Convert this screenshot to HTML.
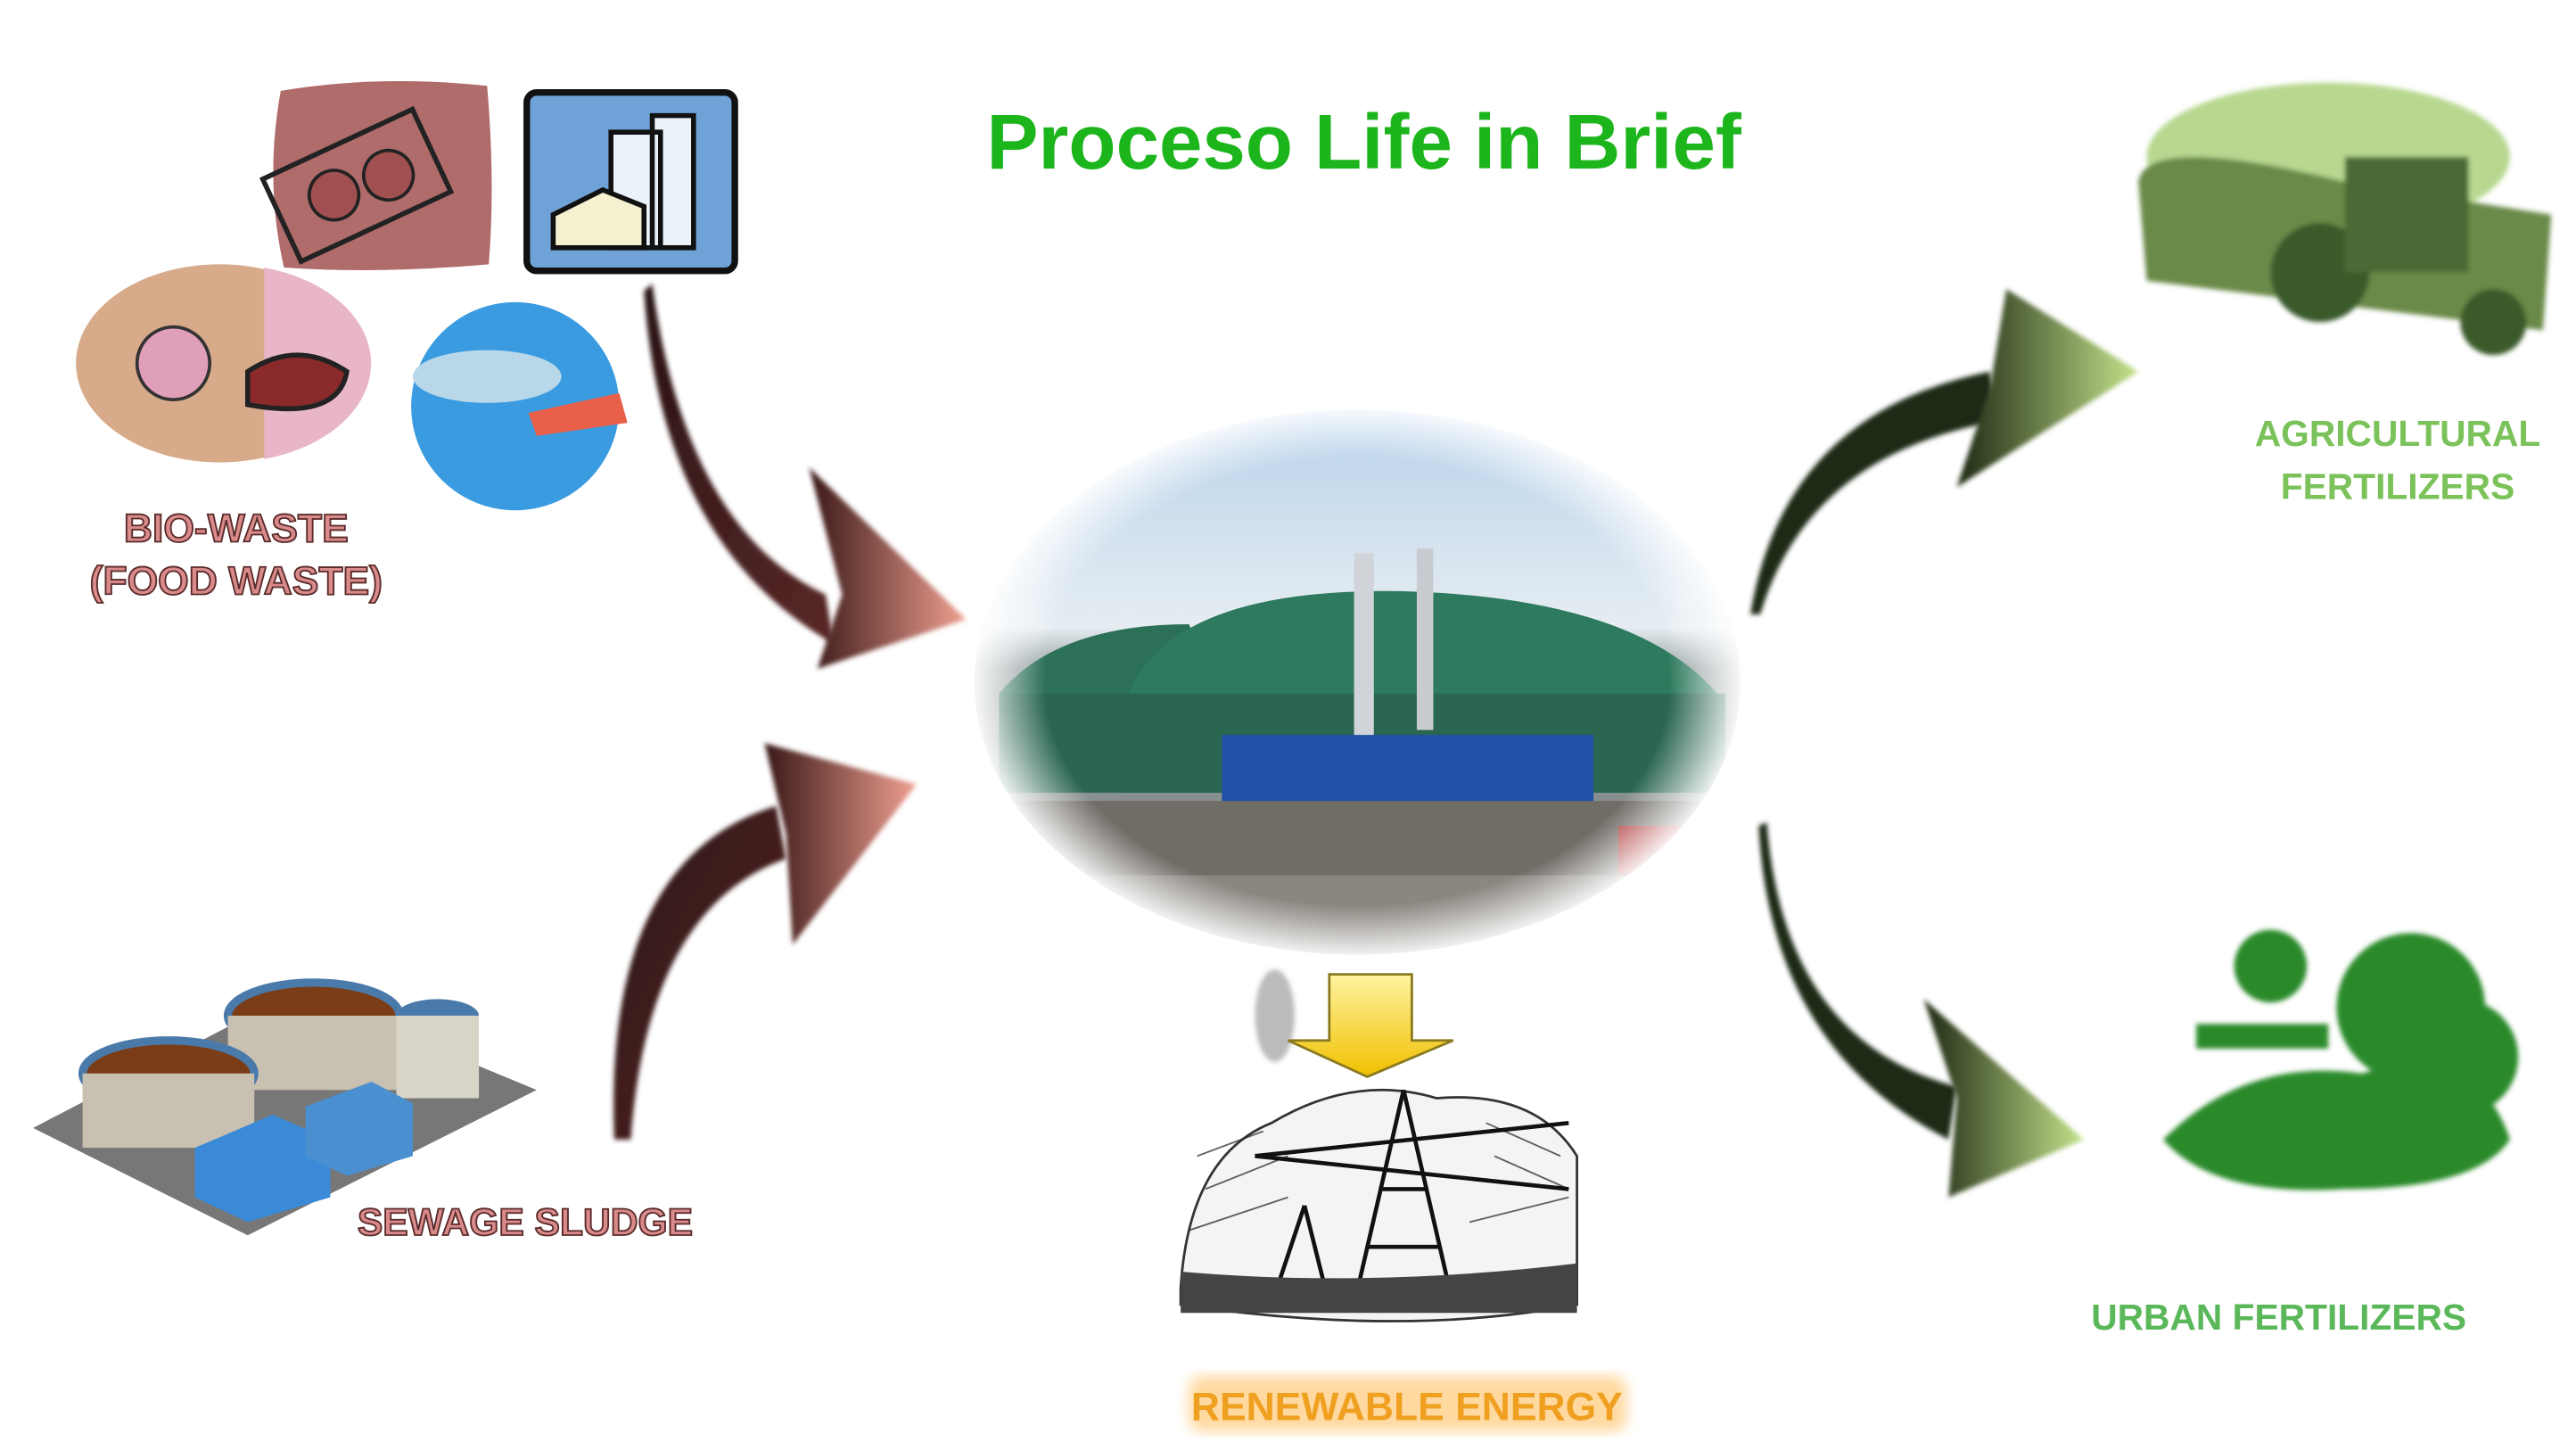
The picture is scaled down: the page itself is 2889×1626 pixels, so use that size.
<!DOCTYPE html>
<html><head><meta charset="utf-8"><style>
html,body{margin:0;padding:0;background:#fff;}
svg{display:block;}
text{font-family:"Liberation Sans",sans-serif;}
</style></head><body>
<svg width="2889" height="1626" viewBox="0 0 1560 878" xmlns="http://www.w3.org/2000/svg">
<defs>
<linearGradient id="sky" x1="0" y1="0" x2="0" y2="1">
<stop offset="0" stop-color="#b5d0ea"/><stop offset="0.4" stop-color="#e6edf2"/><stop offset="0.47" stop-color="#9aa4a6"/><stop offset="1" stop-color="#6f7270"/></linearGradient>
<radialGradient id="fade" cx="0.5" cy="0.5" r="0.5">
<stop offset="0.8" stop-color="#fff" stop-opacity="0"/><stop offset="1" stop-color="#fff" stop-opacity="1"/></radialGradient>
<linearGradient id="redA" x1="0" y1="0" x2="1" y2="1"><stop offset="0" stop-color="#2a1414"/><stop offset="1" stop-color="#5a2828"/></linearGradient>
<linearGradient id="redH" x1="0" y1="0" x2="1" y2="0"><stop offset="0" stop-color="#3a1818"/><stop offset="1" stop-color="#f0a090"/></linearGradient>
<linearGradient id="grH" x1="0" y1="0" x2="1" y2="0"><stop offset="0" stop-color="#1e2a14"/><stop offset="1" stop-color="#c4e28a"/></linearGradient>
<linearGradient id="yel" x1="0" y1="0" x2="0" y2="1"><stop offset="0" stop-color="#fff3a0"/><stop offset="1" stop-color="#f0c000"/></linearGradient>
<filter id="bl"><feGaussianBlur stdDeviation="1.5"/></filter>
<filter id="bl4"><feGaussianBlur stdDeviation="4"/></filter>
<clipPath id="ce"><ellipse cx="822" cy="413" rx="232" ry="165"/></clipPath>
</defs>

<text x="826" y="102" font-size="47" font-weight="bold" fill="#1cb51c" text-anchor="middle">Proceso Life in Brief</text>

<!-- food icons -->
<path d="M170,55 Q230,45 295,52 Q300,110 296,160 Q230,166 172,162 Q160,110 170,55Z" fill="#b06b6b"/>
<g transform="rotate(-25 215 110)"><rect x="165" y="85" width="100" height="55" fill="none" stroke="#222" stroke-width="3"/><circle cx="200" cy="112" r="15" fill="#a05050" stroke="#222" stroke-width="2"/><circle cx="235" cy="115" r="15" fill="#a05050" stroke="#222" stroke-width="2"/></g>
<rect x="319" y="56" width="126" height="108" rx="6" fill="#6fa3d8" stroke="#111" stroke-width="4"/>
<path d="M370,80 h30 v70 h-30z M395,70 h25 v80 h-25z" fill="#eaf2fa" stroke="#111" stroke-width="3"/>
<path d="M335,130 l30,-15 l25,10 v25 h-55z" fill="#f4f0d0" stroke="#111" stroke-width="3"/>
<ellipse cx="133" cy="220" rx="87" ry="60" fill="#d7ab8a"/>
<path d="M160,162 A87,60 0 0 1 160,278Z" fill="#e8b6c8"/>
<circle cx="105" cy="220" r="22" fill="#e09fb8" stroke="#333" stroke-width="2"/>
<path d="M150,225 q30,-20 60,0 q-5,30 -60,20z" fill="#8a2a2a" stroke="#222" stroke-width="3"/>
<circle cx="312" cy="246" r="63" fill="#3a9be0"/>
<ellipse cx="295" cy="228" rx="45" ry="16" fill="#b8d8ea"/>
<path d="M320,250 l55,-12 l5,18 l-55,8z" fill="#e8604a"/>
<text x="143" y="328" font-size="24" font-weight="bold" fill="#d98a8a" stroke="#5a2a2a" stroke-width="1" text-anchor="middle">BIO-WASTE</text>
<text x="143" y="360" font-size="24" font-weight="bold" fill="#d98a8a" stroke="#5a2a2a" stroke-width="1" text-anchor="middle">(FOOD WASTE)</text>

<!-- red arrows -->
<path d="M395,172 Q415,320 500,360 L505,390 Q400,330 390,176Z" fill="url(#redA)" filter="url(#bl)"/>
<path d="M490,283 L585,375 L495,405 L510,360Z" fill="url(#redH)" filter="url(#bl)"/>
<path d="M372,690 Q365,520 470,488 L476,520 Q392,550 382,690Z" fill="url(#redA)" filter="url(#bl)"/>
<path d="M463,450 L555,475 L480,572 L476,505Z" fill="url(#redH)" filter="url(#bl)"/>

<!-- central photo -->
<g clip-path="url(#ce)">
<rect x="580" y="240" width="490" height="350" fill="url(#sky)"/>
<path d="M605,420 Q640,378 720,378 L760,470 L605,470Z" fill="#2d7058"/>
<path d="M680,430 Q700,355 850,358 Q990,362 1040,420 L1040,480 L680,480Z" fill="#2e7a5e"/>
<rect x="605" y="420" width="440" height="60" fill="#2a6650"/>
<rect x="740" y="445" width="225" height="85" fill="#2050a8"/>
<rect x="820" y="335" width="12" height="110" fill="#d0d4d8"/>
<rect x="858" y="332" width="10" height="110" fill="#c8ccd0"/>
<rect x="600" y="485" width="450" height="100" fill="#706c66"/>
<rect x="600" y="530" width="450" height="60" fill="#8a8680"/>
<rect x="980" y="500" width="40" height="30" fill="#b04040"/>
</g>
<ellipse cx="822" cy="413" rx="236" ry="169" fill="url(#fade)"/>

<!-- yellow arrow -->
<ellipse cx="772" cy="615" rx="12" ry="28" fill="#bbb" filter="url(#bl)"/>
<path d="M805,590 h50 v40 h25 l-52,22 l-48,-22 h25z" fill="url(#yel)" stroke="#8a7a20" stroke-width="1.5"/>

<!-- energy sketch -->
<g>
<path d="M715,780 Q720,700 770,680 Q820,650 870,665 Q930,660 955,700 L955,790 Q850,810 715,790Z" fill="#f4f4f4" stroke="#333" stroke-width="1.5"/>
<g stroke="#222" stroke-width="1" opacity="0.7">
<path d="M725,700 l40,-15 M730,720 l50,-20 M900,680 l45,20 M905,700 l45,20 M720,745 l60,-20 M890,740 l60,-15"/>
</g>
<path d="M850,660 L820,790 M850,660 L880,790 M835,720 h30 M828,755 h45 M790,730 L770,790 M790,730 L805,790 M760,700 L950,680 M760,700 L950,720" stroke="#111" stroke-width="2.5" fill="none"/>
<path d="M715,770 Q830,780 955,765 L955,795 L715,795Z" fill="#444"/>
</g>
<rect x="720" y="833" width="265" height="34" rx="8" fill="#ffd9a0" filter="url(#bl4)"/>
<text x="852" y="860" font-size="24" font-weight="bold" fill="#f0a020" text-anchor="middle">RENEWABLE ENERGY</text>

<!-- sewage -->
<path d="M20,683 L180,600 L325,660 L150,748Z" fill="#777"/>
<ellipse cx="190" cy="615" rx="52" ry="20" fill="#7a3d18" stroke="#4a7aaa" stroke-width="5"/>
<rect x="138" y="615" width="104" height="45" fill="#c8c0b0"/>
<ellipse cx="102" cy="650" rx="52" ry="20" fill="#7a3d18" stroke="#4a7aaa" stroke-width="5"/>
<rect x="50" y="650" width="104" height="45" fill="#c8c0b0"/>
<ellipse cx="265" cy="615" rx="25" ry="10" fill="#4a7aaa"/>
<rect x="240" y="615" width="50" height="50" fill="#d8d4c8"/>
<path d="M118,695 L165,675 L200,690 L200,725 L150,740 L118,725Z" fill="#3a8ad8"/>
<path d="M185,670 L225,655 L250,668 L250,700 L210,712 L185,700Z" fill="#4a90d0"/>
<text x="318" y="748" font-size="23" font-weight="bold" fill="#d98a8a" stroke="#5a2a2a" stroke-width="1" text-anchor="middle">SEWAGE SLUDGE</text>

<!-- green arrows -->
<path d="M1060,372 Q1080,250 1205,225 L1210,255 Q1095,275 1066,372Z" fill="#1e2a14" filter="url(#bl)"/>
<path d="M1215,175 L1295,225 L1185,295 L1205,235Z" fill="url(#grH)" filter="url(#bl)"/>
<path d="M1070,498 Q1080,630 1185,658 L1180,690 Q1072,635 1065,500Z" fill="#1e2a14" filter="url(#bl)"/>
<path d="M1165,605 L1262,690 L1180,725 L1185,665Z" fill="url(#grH)" filter="url(#bl)"/>

<!-- tractor -->
<g filter="url(#bl)">
<ellipse cx="1410" cy="95" rx="110" ry="45" fill="#b8d890"/>
<path d="M1295,110 Q1300,80 1420,110 L1545,130 L1540,200 Q1420,185 1300,170Z" fill="#6a8a4a"/>
<circle cx="1405" cy="165" r="30" fill="#3a5a2a"/>
<rect x="1420" y="95" width="75" height="70" fill="#4a6a34"/>
<circle cx="1510" cy="195" r="20" fill="#3a5a2a"/>
</g>
<text x="1452" y="270" font-size="22" font-weight="bold" fill="#7bc25a" text-anchor="middle">AGRICULTURAL</text>
<text x="1452" y="302" font-size="22" font-weight="bold" fill="#7bc25a" text-anchor="middle">FERTILIZERS</text>

<!-- urban -->
<g filter="url(#bl)" fill="#2a8a2a">
<circle cx="1460" cy="610" r="45"/>
<circle cx="1490" cy="640" r="35"/>
<path d="M1310,690 Q1360,640 1430,650 Q1500,630 1520,690 Q1500,720 1420,720 Q1340,725 1310,690Z"/>
<circle cx="1375" cy="585" r="22"/>
<rect x="1330" y="620" width="80" height="15"/>
</g>
<text x="1380" y="805" font-size="22" font-weight="bold" fill="#5ab85a" text-anchor="middle">URBAN FERTILIZERS</text>
</svg>
</body></html>
